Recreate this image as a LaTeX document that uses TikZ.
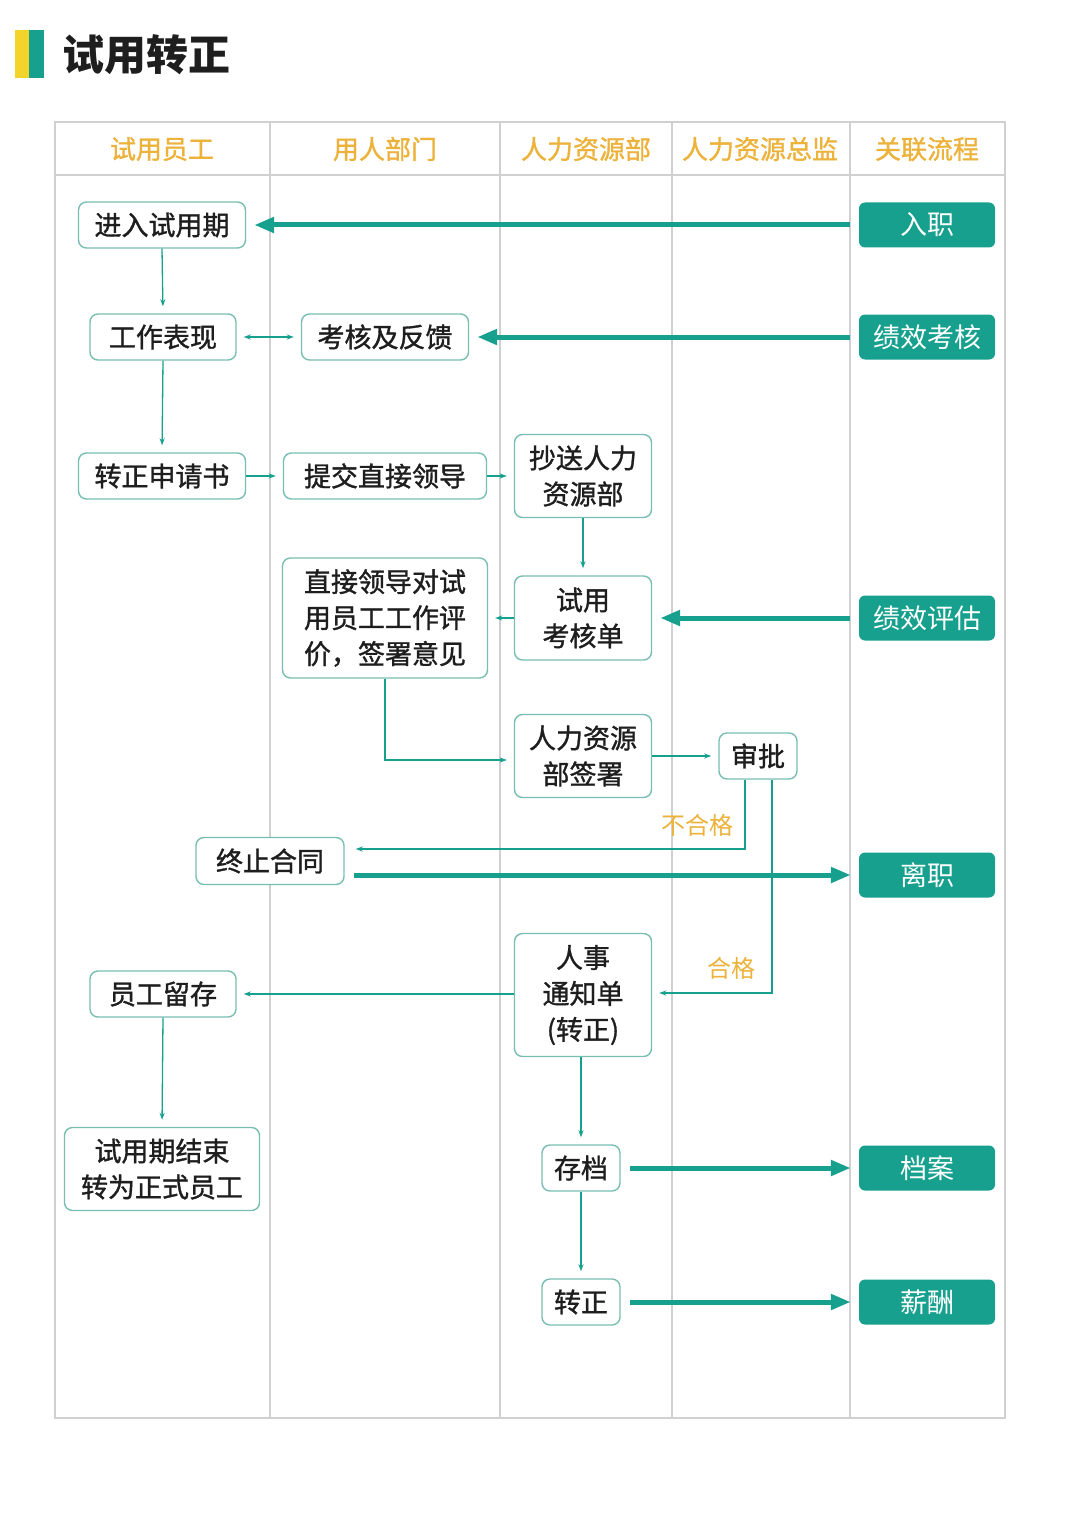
\documentclass[tikz,border=0pt]{standalone}
\usepackage{fontspec}
\setmainfont{Noto Sans CJK SC}
\newfontfamily\nodefont{Noto Sans CJK SC}[FakeBold=1.2]
\usetikzlibrary{arrows.meta}
\definecolor{teal1}{RGB}{24,160,142}
\definecolor{boxc}{RGB}{120,190,178}
\definecolor{gold}{RGB}{236,178,58}
\definecolor{gridc}{RGB}{208,208,208}
\definecolor{txt}{RGB}{30,30,30}
\definecolor{baryellow}{RGB}{242,212,42}
\begin{document}
\begin{tikzpicture}[x=1pt,y=-1pt,
  box/.style={draw=boxc, line width=1.4pt, rounded corners=8pt, fill=white, inner sep=0pt, align=center, font=\nodefont\fontsize{27}{36}\selectfont, text=txt},
  rbox/.style={fill=teal1, rounded corners=6pt, minimum width=136pt, minimum height=45pt, inner sep=0pt, text=white, font=\fontsize{27}{34}\selectfont},
  thin/.style={draw=teal1, line width=1.3pt, -{Stealth[length=7pt,width=5pt]}, shorten >=7pt},
  thick/.style={draw=teal1, line width=5pt, -{Triangle[length=20pt,width=15pt]}, shorten >=8pt, shorten <=9pt},
  hdr/.style={text=gold, font=\nodefont\fontsize{26}{30}\selectfont},
  lbl/.style={text=gold, font=\fontsize{24}{28}\selectfont}]
\useasboundingbox (0,0) rectangle (1080,1538);
\fill[white] (0,0) rectangle (1080,1538);
% title
\fill[baryellow] (15,30) rectangle (29,78);
\fill[teal1] (29,30) rectangle (44,78);
\node[anchor=west, text=txt, font=\fontsize{42}{46}\selectfont\bfseries, inner sep=0pt] (title) at (62,55) {试用转正};
% table grid
\draw[gridc, line width=1.2pt] (55,122) rectangle (1005,1418);
\draw[gridc, line width=1.8pt] (55,175) -- (1005,175);
\foreach \x in {270,500,672,850} \draw[gridc, line width=1.2pt] (\x,122) -- (\x,1418);
% headers
\node[hdr] (h1) at (162,149) {试用员工};
\node[hdr] (h2) at (385,149) {用人部门};
\node[hdr] (h3) at (586,149) {人力资源部};
\node[hdr] (h4) at (760,149) {人力资源总监};
\node[hdr] (h5) at (927,149) {关联流程};
% nodes
\node[box, minimum width=167pt, minimum height=46pt] (n1) at (162,225) {进入试用期};
\node[box, minimum width=146pt, minimum height=46pt] (n2) at (163,337) {工作表现};
\node[box, minimum width=167pt, minimum height=46pt] (n3) at (385,337) {考核及反馈};
\node[box, minimum width=167pt, minimum height=46pt] (n4) at (162,476) {转正申请书};
\node[box, minimum width=203pt, minimum height=46pt] (n5) at (385,476) {提交直接领导};
\node[box, minimum width=137pt, minimum height=83pt] (n6) at (583,476) {抄送人力\\资源部};
\node[box, minimum width=205pt, minimum height=120pt] (n7) at (385,618) {直接领导对试\\用员工工作评\\价，签署意见};
\node[box, minimum width=137pt, minimum height=84pt] (n8) at (583,618) {试用\\考核单};
\node[box, minimum width=137pt, minimum height=83pt] (n9) at (583,756) {人力资源\\部签署};
\node[box, minimum width=78pt, minimum height=46pt] (n10) at (758,756) {审批};
\node[box, minimum width=148pt, minimum height=47pt] (n11) at (270,861) {终止合同};
\node[box, minimum width=137pt, minimum height=123pt] (n12) at (583,995) {人事\\通知单\\(转正)};
\node[box, minimum width=146pt, minimum height=46pt] (n13) at (163,994) {员工留存};
\node[box, minimum width=195pt, minimum height=83pt] (n14) at (162,1169) {试用期结束\\转为正式员工};
\node[box, minimum width=78pt, minimum height=46pt] (n15) at (581,1168) {存档};
\node[box, minimum width=78pt, minimum height=46pt] (n16) at (581,1302) {转正};
% right column
\node[rbox] (r1) at (927,225) {入职};
\node[rbox] (r2) at (927,337) {绩效考核};
\node[rbox] (r3) at (927,618) {绩效评估};
\node[rbox] (r4) at (927,875) {离职};
\node[rbox] (r5) at (927,1168) {档案};
\node[rbox] (r6) at (927,1302) {薪酬};
% thick arrows
\draw[thick] (r1.west) -- (n1.east);
\draw[thick] (r2.west) -- (n3.east);
\draw[thick] (r3.west) -- (n8.east);
\draw[thick] (n11.east |- r4.west) -- (r4.west);
\draw[thick] (n15.east) -- (n15.east -| r5.west);
\draw[thick] (n16.east) -- (n16.east -| r6.west);
% thin arrows
\draw[thin] (n1.south) -- (n2.north);
\draw[thin, {Stealth[length=7pt,width=5pt]}-{Stealth[length=7pt,width=5pt]}, shorten <=7pt] (n2.east) -- (n3.west);
\draw[thin] (n2.south) -- (n4.north);
\draw[thin] (n4.east) -- (n5.west);
\draw[thin] (n5.east) -- (n6.west);
\draw[thin] (n6.south) -- (n8.north);
\draw[thin] (n8.west) -- (n7.east);
\draw[thin] (n7.south) |- ([yshift=-4pt]n9.west);
\draw[thin] (n9.east) -- (n10.west);
\draw[thin, shorten >=11pt] ([xshift=-13pt]n10.south) |- ([yshift=12pt]n11.east);
\draw[thin] ([xshift=14pt]n10.south) |- ([yshift=2pt]n12.east);
\draw[thin] (n12.west |- n13.east) -- (n13.east);
\draw[thin] (n13.south) -- (n14.north);
\draw[thin] (n12.south -| n15.north) -- (n15.north);
\draw[thin] (n15.south) -- (n16.north);
% labels
\node[lbl] (l1) at (697,825) {不合格};
\node[lbl] (l2) at (731,968) {合格};
\end{tikzpicture}
\end{document}
